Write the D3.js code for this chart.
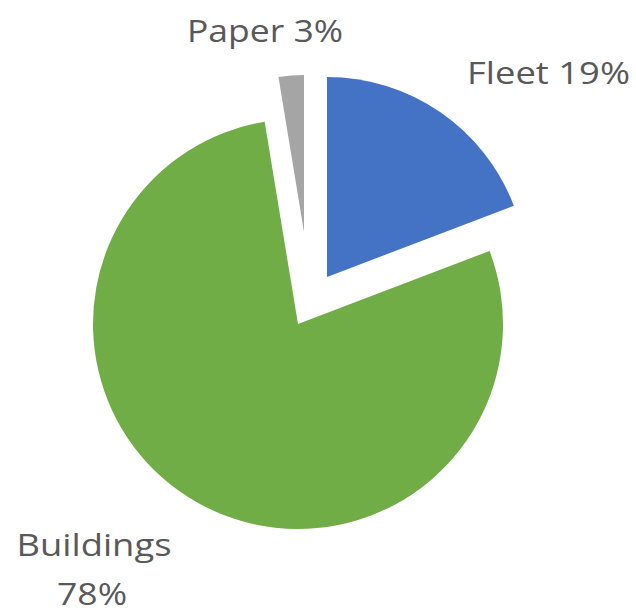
<!DOCTYPE html>
<html>
<head>
<meta charset="utf-8">
<script src="https://cdn.jsdelivr.net/npm/d3@7"></script>
<style>
  html, body { margin: 0; padding: 0; background: #fff; }
  svg { display: block; }
  .lbl { font-family: "Open Sans", sans-serif; font-size: 31px; fill: #595959; }
</style>
</head>
<body>
<div class="chart"></div>
<script>
// data
const categories = ["Fleet", "Buildings", "Paper"];
const shares = [19.2, 78.2, 2.6];
const colors = ["#4472C4", "#70AD47", "#A5A5A5"];

const width = 636, height = 616;
const center = {x: 298, y: 324};

// per slice look: explode shift and radius
const sliceLook = [
  {dx: 29, dy: -47, r: 200},
  {dx: 0, dy: 0, r: 205},
  {dx: 6, dy: -92, r: 157}
];

// label placement (text anchor point, width to fit)
const labelLook = [
  {lines: [{x: 467, y: 84, w: 163, anchor: "start"}], oneLine: true},
  {lines: [{x: 94, y: 556, w: 155, anchor: "middle"}, {x: 92, y: 605, w: 70, anchor: "middle"}], oneLine: false},
  {lines: [{x: 265, y: 42, w: 156, anchor: "middle"}], oneLine: true}
];

const svg = d3.select(".chart").append("svg")
  .attr("width", width)
  .attr("height", height)
  .attr("viewBox", `0 0 ${width} ${height}`);

const total = d3.sum(shares);
const pct = d3.format(".0%");

const pie = d3.pie().sort(null).value(d => d);
const arcs = pie(shares);

const g = svg.append("g").attr("transform", `translate(${center.x},${center.y})`);

g.selectAll("path.slice")
  .data(arcs)
  .enter()
  .append("path")
  .attr("class", "slice")
  .attr("transform", (d, i) => `translate(${sliceLook[i].dx},${sliceLook[i].dy})`)
  .attr("d", (d, i) => d3.arc().innerRadius(0).outerRadius(sliceLook[i].r)(d))
  .attr("fill", (d, i) => colors[i]);

// labels
arcs.forEach((d, i) => {
  const txt = categories[i] + " " + pct(shares[i] / total);
  const look = labelLook[i];
  const parts = look.oneLine ? [txt] : [categories[i], pct(shares[i] / total)];
  parts.forEach((p, k) => {
    const L = look.lines[k];
    svg.append("text")
      .attr("class", "lbl")
      .attr("x", L.x)
      .attr("y", L.y)
      .attr("text-anchor", L.anchor)
      .attr("textLength", L.w)
      .attr("lengthAdjust", "spacingAndGlyphs")
      .text(p);
  });
});
</script>
</body>
</html>
